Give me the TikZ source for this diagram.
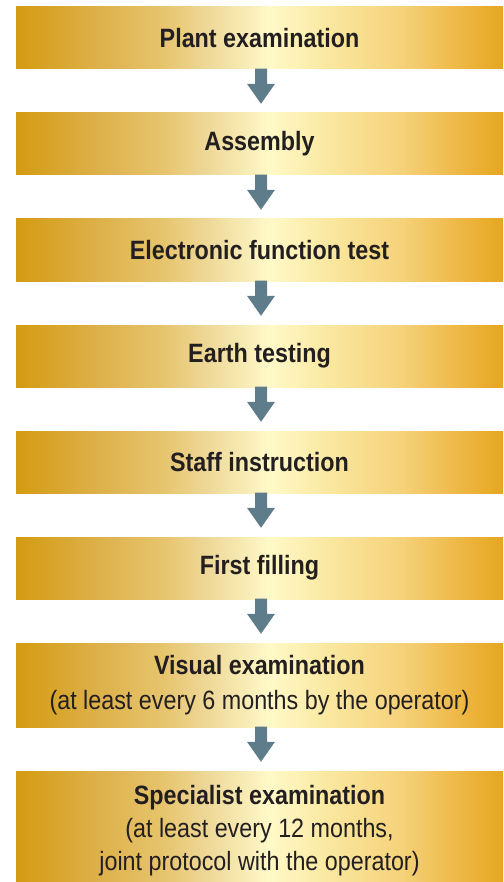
\documentclass[tikz,border=0pt]{standalone}
\usepackage{fontspec}
\setmainfont{Liberation Sans}[FakeStretch=0.88]
\usetikzlibrary{calc}
\definecolor{g0}{HTML}{D49B12}
\definecolor{g1}{HTML}{DDB14A}
\definecolor{g2}{HTML}{E6C46C}
\definecolor{g3}{HTML}{EDD592}
\definecolor{g4}{HTML}{F7EBB5}
\definecolor{g5}{HTML}{FFF9C8}
\definecolor{g6}{HTML}{FAE8A0}
\definecolor{g7}{HTML}{F5D27A}
\definecolor{g8}{HTML}{EFBC4E}
\definecolor{g9}{HTML}{E6A61E}
\definecolor{arrowcol}{HTML}{5F7C8A}
\definecolor{txt}{HTML}{231F20}
\pgfdeclarehorizontalshading{goldbar}{100bp}{color(0bp)=(g0); color(25bp)=(g0); color(33.5bp)=(g1); color(40bp)=(g2); color(44bp)=(g3); color(48.5bp)=(g4); color(51bp)=(g5); color(57bp)=(g6); color(64.5bp)=(g7); color(69.5bp)=(g8); color(75bp)=(g9); color(100bp)=(g9)}
\newcommand\flowarr[2]{%
  \fill[arrowcol] ($(#1.south)+(-4.5,0.5)$) -- ($(#1.south)+(7.5,0.5)$)
    -- ($(#2.north)+(7.5,29)$) -- ($(#2.north)+(15.5,29)$)
    -- ($(#2.north)+(1.5,9)$) -- ($(#2.north)+(-12.5,29)$)
    -- ($(#2.north)+(-4.5,29)$) -- cycle;}
\begin{document}
\begin{tikzpicture}[x=1pt,y=1pt,
  box/.style={rectangle, inner sep=0pt, minimum width=487pt, minimum height=62pt,
    shading=goldbar, align=center, text=txt,
    font=\fontsize{26.5}{33}\selectfont}]
\useasboundingbox (0,0) rectangle (503,-882);
\node[box] (b1) at (259.5,-38) {\bfseries Plant examination};
\node[box] (b2) at (259.5,-144) {\bfseries Assembly};
\node[box] (b3) at (259.5,-250) {\bfseries Electronic function test};
\node[box] (b4) at (259.5,-356) {\bfseries Earth testing};
\node[box] (b5) at (259.5,-462) {\bfseries Staff instruction};
\node[box] (b6) at (259.5,-568) {\bfseries First filling};
\node[box, minimum height=84pt] (b7) at (259.5,-685) {\textbf{Visual examination}\\[2pt](at least every 6 months by the operator)};
\node[box, minimum height=111pt] (b8) at (259.5,-826.5) {};
\node[align=center, text=txt, inner sep=0pt, font=\fontsize{26.5}{33}\selectfont] (t8) at (259.5,-830.5) {\textbf{Specialist examination}\\(at least every 12 months,\\joint protocol with the operator)};
\flowarr{b1}{b2}
\flowarr{b2}{b3}
\flowarr{b3}{b4}
\flowarr{b4}{b5}
\flowarr{b5}{b6}
\flowarr{b6}{b7}
\flowarr{b7}{b8}
\end{tikzpicture}
\end{document}
